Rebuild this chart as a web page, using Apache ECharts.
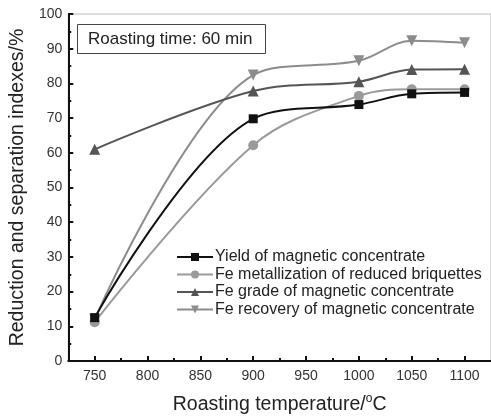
<!DOCTYPE html>
<html><head><meta charset="utf-8">
<script src="https://cdn.jsdelivr.net/npm/echarts@6/dist/echarts.min.js"></script>
<style>html,body{margin:0;padding:0;background:#fff}#c{width:491px;height:420px}</style>
</head><body><div id="c"></div>
<script>
const temps = [750, 900, 1000, 1050, 1100];
const xLabels = [750, 800, 850, 900, 950, 1000, 1050, 1100];
const xMinor = [775, 825, 875, 925, 975, 1025, 1075];
const yieldMag = [12.5, 69.8, 73.9, 77.0, 77.4];
const feMetal = [11.2, 62.2, 76.4, 78.3, 78.3];
const feGrade = [61.0, 77.8, 80.5, 84.0, 84.1];
const feRecovery = [12.0, 82.4, 86.5, 92.3, 91.7];
const names = ['Yield of magnetic concentrate','Fe metallization of reduced briquettes','Fe grade of magnetic concentrate','Fe recovery of magnetic concentrate'];

const F = 'Liberation Sans, Arial, sans-serif';
function pts(v){ return temps.map((t,i)=>[t, v[i]]); }
function ser(name, data, color, symbol, size, z){
  return {name, type:'line', data:pts(data), smooth:0.35, symbol, symbolSize:size, z,
    lineStyle:{color, width:2}, itemStyle:{color}};
}
const chart = echarts.init(document.getElementById('c'), null, {renderer:'canvas'});
chart.setOption({
  animation:false,
  textStyle:{fontFamily:F},
  title:{text:'Roasting time: 60 min', left:77, top:24, padding:[7,13,6,11],
    borderColor:'#444', borderWidth:1,
    textStyle:{fontFamily:F, fontSize:17, fontWeight:'normal', color:'#222'}},
  legend:{orient:'vertical', left:171, top:244, itemGap:1.5, itemWidth:36, itemHeight:10,
    textStyle:{fontFamily:F, fontSize:16, lineHeight:16, color:'#222', padding:[0,0,0,-3]},
    data:names},
  grid:{left:63, top:14, bottom:59, right:-3, show:true, borderColor:'#bbb', borderWidth:1},
  xAxis:[{type:'value', min:725, max:1125, interval:25,
    axisLine:{lineStyle:{color:'#111', width:2}},
    axisTick:{inside:true, length:5, lineStyle:{color:'#111', width:2}, customValues:xLabels},
    axisLabel:{color:'#333', fontSize:14, margin:8, customValues:xLabels, formatter:v=>String(v)},
    splitLine:{show:false},
    name:'Roasting temperature/{s|o}C', nameLocation:'middle', nameGap:32,
    nameTextStyle:{fontSize:19.5, color:'#222', rich:{s:{fontSize:12, verticalAlign:'top', padding:[0,0,12,0], color:'#222'}}}
  },{type:'value', min:725, max:1125, position:'bottom', gridIndex:0,
    axisLine:{show:false}, axisLabel:{show:false}, splitLine:{show:false},
    axisTick:{inside:true, length:3, lineStyle:{color:'#111', width:2}, customValues:xMinor}
  }],
  yAxis:{type:'value', min:0, max:100, interval:10,
    axisLine:{show:true, lineStyle:{color:'#111', width:2}},
    axisTick:{show:true, inside:true, length:5, lineStyle:{color:'#111', width:2}},
    minorTick:{show:true, splitNumber:2, length:3, lineStyle:{color:'#111', width:2}},
    axisLabel:{color:'#333', fontSize:14, margin:6},
    splitLine:{show:false},
    name:'Reduction and separation indexes/%', nameLocation:'middle', nameGap:37,
    nameTextStyle:{fontSize:19.5, color:'#222'}},
  series:[
    ser(names[0], yieldMag, '#111', 'rect', 9, 5),
    ser(names[1], feMetal, '#9a9a9a', 'circle', 10, 4),
    ser(names[2], feGrade, '#555', 'triangle', 11, 3),
    Object.assign(ser(names[3], feRecovery, '#8c8c8c', 'triangle', 11, 2), {symbolRotate:180})
  ]
});
</script></body></html>
